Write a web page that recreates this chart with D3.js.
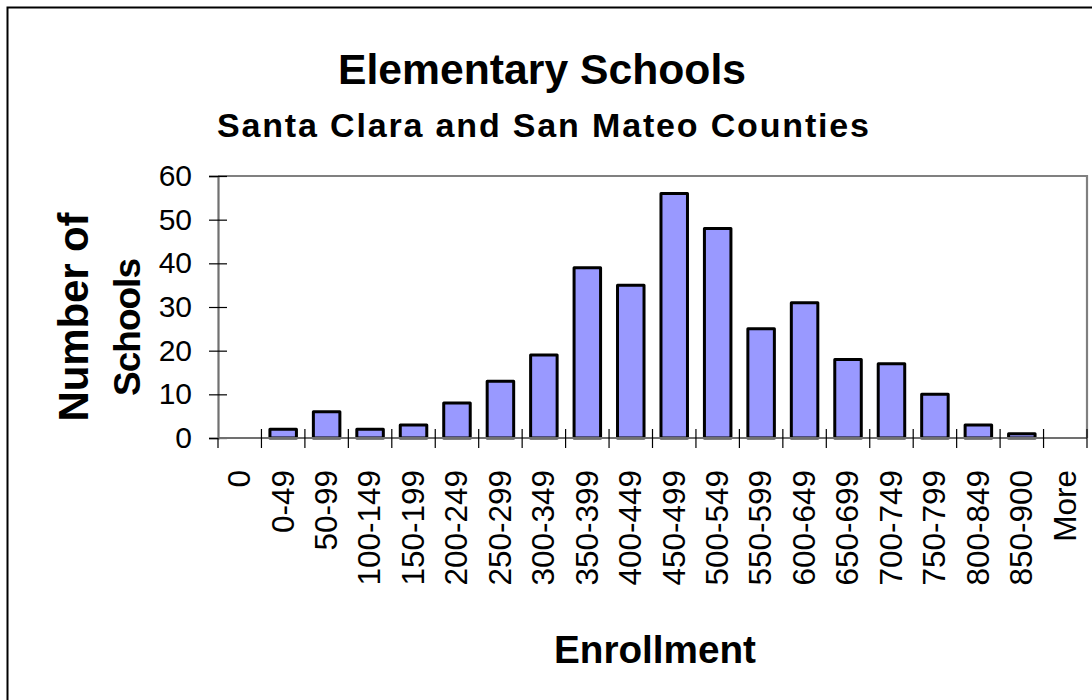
<!DOCTYPE html>
<html>
<head>
<meta charset="utf-8">
<script src="https://cdn.jsdelivr.net/npm/d3@7"></script>
<style>
  html, body { margin: 0; padding: 0; background: #fff; }
  svg { display: block; font-family: "Liberation Sans", Arial, sans-serif; }
</style>
</head>
<body>
<svg id="chart" width="1092" height="700"></svg>
<script>
// ---- data ----
const categories = ["0", "0-49", "50-99", "100-149", "150-199", "200-249", "250-299", "300-349",
  "350-399", "400-449", "450-499", "500-549", "550-599", "600-649", "650-699", "700-749",
  "750-799", "800-849", "850-900", "More"];
const counts = [0, 2, 6, 2, 3, 8, 13, 19, 39, 35, 56, 48, 25, 31, 18, 17, 10, 3, 1, 0];
const yTicks = [0, 10, 20, 30, 40, 50, 60];
const titleText = "Elementary Schools";
const subtitleText = "Santa Clara and San Mateo Counties";
const xTitle = "Enrollment";
const yTitleLines = ["Number of", "Schools"];

// ---- layout ----
const svg = d3.select("#chart");
const plot = { left: 218, right: 1087, top: 176, bottom: 438 };

// outer chart border
svg.append("rect")
  .attr("x", 7.5).attr("y", 7.5)
  .attr("width", 1100).attr("height", 720)
  .attr("fill", "none").attr("stroke", "#000").attr("stroke-width", 2);

const x = d3.scaleBand().domain(categories).range([plot.left, plot.right]).padding(0);
const y = d3.scaleLinear().domain([0, 60]).range([plot.bottom, plot.top]);

// plot area border (top & right)
svg.append("path")
  .attr("d", `M${plot.left},${plot.top}H${plot.right}V${plot.bottom}`)
  .attr("fill", "none").attr("stroke", "#808080").attr("stroke-width", 2.2);

// bars
const barW = x.bandwidth() * 0.61;
svg.append("g").selectAll("rect")
  .data(categories.map((c, i) => ({ c, v: counts[i] })).filter(d => d.v > 0))
  .join("rect")
  .attr("x", d => x(d.c) + (x.bandwidth() - barW) / 2)
  .attr("width", barW)
  .attr("y", d => y(d.v))
  .attr("height", d => y(0) - y(d.v))
  .attr("fill", "#9999FF")
  .attr("stroke", "#000")
  .attr("stroke-width", 3)
  .attr("stroke-linejoin", "round");

// y axis
const yAxis = svg.append("g")
  .attr("transform", `translate(${plot.left},0)`)
  .call(d3.axisLeft(y).tickValues(yTicks).tickSize(9).tickPadding(17).tickFormat(d3.format("d")));
yAxis.select(".domain").attr("stroke", "#707070").attr("stroke-width", 2.2);
yAxis.selectAll(".tick line").attr("x1", 9).attr("stroke", "#000").attr("stroke-width", 1.2);
yAxis.selectAll(".tick text")
  .attr("font-size", 30).attr("fill", "#000")
  .attr("font-family", "'Liberation Sans', Arial, sans-serif");

// x axis line
svg.append("line")
  .attr("x1", plot.left).attr("x2", plot.right)
  .attr("y1", y(0)).attr("y2", y(0))
  .attr("stroke", "#707070").attr("stroke-width", 2.2);

// x boundary ticks (crossing)
const boundaries = categories.map(c => x(c)).concat([x.range()[1]]);
svg.append("g").selectAll("line")
  .data(boundaries)
  .join("line")
  .attr("x1", d => d).attr("x2", d => d)
  .attr("y1", (d, i) => i === 0 ? y(0) : y(0) - 9)
  .attr("y2", y(0) + 10)
  .attr("stroke", "#000").attr("stroke-width", 1.2);

// x tick labels (rotated)
svg.append("g").selectAll("text")
  .data(categories)
  .join("text")
  .attr("transform", d => `translate(${x(d) + x.bandwidth() / 2 - 1},470) rotate(-90)`)
  .attr("text-anchor", "end")
  .attr("dy", "0.36em")
  .attr("font-size", 31.5)
  .attr("fill", "#000")
  .text(d => d);

// titles
svg.append("text")
  .attr("x", 542).attr("y", 84)
  .attr("text-anchor", "middle")
  .attr("font-size", 43).attr("font-weight", "bold")
  .attr("textLength", 408).attr("lengthAdjust", "spacingAndGlyphs")
  .text(titleText);

svg.append("text")
  .attr("x", 217).attr("y", 137)
  .attr("font-size", 34).attr("font-weight", "bold")
  .attr("textLength", 652).attr("lengthAdjust", "spacing")
  .text(subtitleText);

svg.append("text")
  .attr("x", 655).attr("y", 663)
  .attr("text-anchor", "middle")
  .attr("font-size", 39).attr("font-weight", "bold")
  .attr("textLength", 202).attr("lengthAdjust", "spacingAndGlyphs")
  .text(xTitle);

// y title (two rotated lines)
const yTitleSpec = [
  { bx: 88, cy: 317, fs: 42, len: 209 },
  { bx: 140, cy: 327, fs: 37, len: 138 }
];
yTitleLines.forEach((t, i) => {
  const s = yTitleSpec[i];
  svg.append("text")
    .attr("transform", `translate(${s.bx},${s.cy}) rotate(-90)`)
    .attr("text-anchor", "middle")
    .attr("font-size", s.fs).attr("font-weight", "bold")
    .attr("textLength", s.len).attr("lengthAdjust", "spacing")
    .text(t);
});
</script>
</body>
</html>
